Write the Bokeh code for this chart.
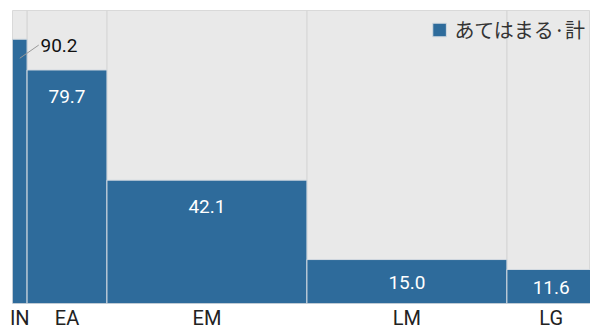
import numpy as np
from bokeh.plotting import figure
from bokeh.models import Range1d, FixedTicker, CustomJSTickFormatter, Legend, LegendItem, ColumnDataSource
from bokeh.core.properties import value
from bokeh.embed import file_html
from bokeh.resources import INLINE

categories = ["IN", "EA", "EM", "LM", "LG"]
shares = [2.5, 13.7, 34.3, 34.3, 15.2]
values = [90.2, 79.7, 42.1, 15.0, 11.6]
series_name = "あてはまる·計"

NUM_FONT = "Roboto"
BAR_COLOR = "#2e6b9b"

shares_a = np.array(shares)
values_a = np.array(values)
rights = np.cumsum(shares_a)
lefts = rights - shares_a
centers = (lefts + rights) / 2

p = figure(width=590, height=332, output_backend="svg", toolbar_location=None,
           x_range=Range1d(0, 99.14), y_range=Range1d(0, 100),
           min_border_left=12, min_border_right=0, min_border_top=10, min_border_bottom=0)
p.background_fill_color = "#e9e9e9"
p.border_fill_color = "white"
p.outline_line_color = "#d9d9d9"
p.grid.visible = False
p.yaxis.visible = False

# background separators
p.segment(x0=lefts[1:], y0=0, x1=lefts[1:], y1=100, line_color="#d2d2d2", line_width=1)

src = ColumnDataSource(dict(left=lefts, right=rights, top=values_a, bottom=np.zeros_like(values_a)))
bars = p.quad(left="left", right="right", top="top", bottom="bottom", source=src,
              fill_color=BAR_COLOR, line_color="#d3dae1", line_width=1)

# inside labels
inside = np.arange(1, len(values))
lab_y = np.maximum(values_a[inside] - 8.9, values_a[inside] * 0.48)
p.text(x=centers[inside], y=lab_y, text=[f"{v:.1f}" for v in values_a[inside]],
       text_color="white", text_font=value(NUM_FONT), text_font_size="19px",
       text_align="center", text_baseline="middle")

# outside label for first bar with leader line
x_lab = rights[0] + 2.3
p.segment(x0=[centers[0]], y0=[values_a[0] - 6.5], x1=[x_lab - 0.3], y1=[values_a[0] - 2.0],
          line_color="#999999", line_width=1)
p.text(x=[x_lab], y=[values_a[0] - 2.2], text=[f"{values_a[0]:.1f}"],
       text_color="#111111", text_font=value(NUM_FONT), text_font_size="19px",
       text_align="left", text_baseline="middle")

# x axis category labels
ax = p.xaxis[0]
ax.ticker = FixedTicker(ticks=list(centers))
ax.formatter = CustomJSTickFormatter(args=dict(names=categories), code="return names[index];")
ax.axis_line_color = None
ax.major_tick_line_color = None
ax.minor_tick_line_color = None
ax.major_tick_out = 0
ax.major_tick_in = 0
ax.major_label_text_font = NUM_FONT
ax.major_label_text_font_size = "20px"
ax.major_label_text_color = "#222222"
ax.major_label_standoff = 2

legend = Legend(items=[LegendItem(label=series_name, renderers=[bars])],
                location="top_right", glyph_width=17, glyph_height=17,
                label_text_font="Noto Sans CJK JP", label_text_font_size="20px",
                label_text_color="#333333", label_standoff=7,
                background_fill_alpha=0, border_line_alpha=0, padding=3, margin=2)
p.add_layout(legend)

open("out.html", "w").write(file_html(p, INLINE))
